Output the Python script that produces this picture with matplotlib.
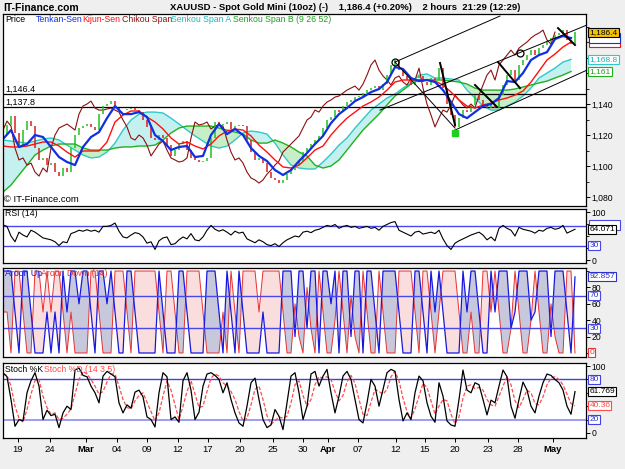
import numpy as np
import matplotlib
matplotlib.use("Agg")
import matplotlib.pyplot as plt
import matplotlib.transforms as mtransforms
from matplotlib.patches import Rectangle
from matplotlib.ticker import FuncFormatter, MultipleLocator, FixedLocator

plt.rcParams['font.family'] = ['Liberation Sans', 'DejaVu Sans']

# 2-hour closes, one value every few bars (left to right)
close = [1120.0, 1126.5, 1132.3, 1121.3, 1113.5, 1123.2, 1129.0, 1125.8, 1111.6, 1103.9,
         1105.2, 1100.6, 1101.9, 1096.1, 1093.5, 1098.7, 1096.1, 1111.6, 1120.0, 1124.5,
         1125.8, 1127.1, 1125.2, 1123.2, 1133.5, 1138.7, 1140.0, 1141.9, 1137.4, 1136.1,
         1136.1, 1136.8, 1137.4, 1136.1, 1134.8, 1129.7, 1125.2, 1118.1, 1116.8, 1120.0,
         1118.1, 1113.5, 1106.5, 1110.3, 1114.2, 1116.1, 1110.3, 1105.2, 1103.9, 1102.6,
         1103.2, 1105.2, 1118.1, 1128.4, 1126.5, 1127.1, 1128.4, 1123.9, 1125.8, 1126.5,
         1125.8, 1116.8, 1109.0, 1103.9, 1105.2, 1101.9, 1096.1, 1092.3, 1091.0, 1089.0,
         1091.0, 1094.8, 1097.4, 1100.6, 1103.2, 1109.0, 1111.6, 1114.2, 1116.8, 1119.4,
         1124.5, 1129.7, 1131.6, 1136.1, 1134.8, 1138.7, 1141.3, 1142.6, 1144.5, 1145.2,
         1147.1, 1149.0, 1150.3, 1151.6, 1149.0, 1152.9, 1158.7, 1165.2, 1168.4, 1161.9,
         1158.1, 1155.5, 1152.3, 1156.8, 1158.1, 1154.2, 1152.3, 1156.8, 1155.5, 1163.2,
         1150.3, 1140.0, 1132.9, 1125.2, 1131.0, 1136.1, 1134.8, 1139.4, 1145.8, 1142.6,
         1139.4, 1137.4, 1140.0, 1137.4, 1145.8, 1152.3, 1158.7, 1161.9, 1155.5, 1165.2,
         1168.4, 1171.6, 1174.8, 1171.6, 1176.1, 1178.1, 1180.0, 1182.6, 1184.5, 1185.8,
         1187.7, 1181.3, 1178.7, 1186.4]

# ichimoku lines, read every second point of the close grid
tenkan = [1117.4, 1123.2, 1112.3, 1114.2, 1120.0, 1118.7, 1112.3, 1105.8, 1102.6, 1100.6,
          1112.3, 1118.7, 1121.9, 1130.9, 1138.7, 1133.5, 1133.5, 1134.8, 1131.6, 1120.0,
          1116.1, 1110.3, 1112.3, 1112.9, 1105.8, 1106.5, 1120.0, 1127.1, 1120.6, 1123.9,
          1120.0, 1111.6, 1106.5, 1103.2, 1097.4, 1094.2, 1097.4, 1103.2, 1108.4, 1114.2,
          1119.4, 1127.7, 1133.5, 1137.4, 1141.9, 1144.5, 1147.7, 1149.7, 1154.2, 1163.9,
          1162.6, 1156.8, 1154.8, 1155.5, 1154.2, 1149.0, 1141.3, 1133.5, 1130.9, 1134.8,
          1138.7, 1140.0, 1143.9, 1154.8, 1154.2, 1160.0, 1168.4, 1171.6, 1173.5, 1181.9,
          1183.9, 1182.6]
kijun = [1112.9, 1112.3, 1112.3, 1112.9, 1114.2, 1115.5, 1115.5, 1112.9, 1109.0, 1105.8,
         1109.7, 1109.7, 1109.7, 1115.5, 1128.4, 1132.9, 1135.5, 1135.5, 1131.6, 1128.4,
         1123.9, 1118.1, 1114.2, 1115.5, 1112.9, 1111.0, 1114.2, 1119.4, 1122.6, 1123.9,
         1123.2, 1119.4, 1113.5, 1109.0, 1103.9, 1099.4, 1098.7, 1100.6, 1105.2, 1110.3,
         1112.9, 1120.0, 1125.8, 1130.9, 1134.8, 1138.7, 1141.3, 1144.5, 1149.0, 1154.2,
         1155.5, 1155.5, 1155.5, 1155.5, 1154.8, 1152.3, 1147.7, 1142.6, 1138.7, 1137.4,
         1139.4, 1140.6, 1142.6, 1143.9, 1145.8, 1148.4, 1154.2, 1161.3, 1168.4, 1172.3,
         1176.8, 1180.0]
senkou_a = [1116.8, 1116.1, 1115.5, 1114.8, 1116.1, 1117.4, 1118.1, 1116.8, 1113.5, 1110.3,
            1107.1, 1105.2, 1105.8, 1109.0, 1114.8, 1123.2, 1129.7, 1133.5, 1134.8, 1134.8,
            1134.2, 1130.9, 1127.1, 1123.2, 1119.4, 1116.1, 1112.9, 1111.6, 1112.9, 1116.8,
            1121.3, 1122.6, 1121.9, 1120.6, 1114.8, 1107.1, 1100.6, 1098.7, 1098.1, 1098.1,
            1102.6, 1107.7, 1113.5, 1118.1, 1124.5, 1130.3, 1136.1, 1140.0, 1143.9, 1146.5,
            1150.3, 1153.6, 1158.7, 1159.4, 1156.8, 1156.8, 1156.1, 1155.5, 1149.0, 1143.9,
            1138.7, 1136.1, 1136.1, 1138.7, 1141.3, 1145.2, 1150.3, 1156.8, 1160.0, 1163.2,
            1167.1, 1168.8]
senkou_b = [1083.2, 1087.7, 1094.2, 1100.6, 1107.1, 1110.3, 1112.9, 1114.2, 1114.2, 1114.2,
            1111.6, 1110.3, 1110.3, 1110.3, 1111.6, 1112.3, 1112.3, 1112.9, 1112.9, 1113.5,
            1116.8, 1121.3, 1124.5, 1125.8, 1125.8, 1125.8, 1125.8, 1124.5, 1123.2, 1121.9,
            1120.6, 1116.8, 1114.8, 1114.8, 1116.8, 1114.8, 1112.3, 1109.0, 1106.5, 1100.6,
            1098.7, 1100.0, 1103.9, 1110.3, 1116.8, 1123.2, 1128.4, 1133.5, 1139.4, 1145.2,
            1149.0, 1152.9, 1155.5, 1155.5, 1155.5, 1155.5, 1154.8, 1154.2, 1152.9, 1150.3,
            1149.0, 1149.0, 1149.0, 1149.0, 1149.7, 1151.0, 1152.3, 1153.6, 1154.8, 1156.8,
            1158.7, 1161.0]

rsi = [73, 70, 50, 38, 58, 52, 48, 62, 58, 52,
       46, 44, 42, 38, 30, 38, 36, 55, 58, 62,
       60, 63, 60, 62, 58, 70, 70, 72, 77, 60,
       48, 46, 52, 57, 55, 48, 35, 38, 22, 40,
       46, 48, 32, 34, 42, 48, 44, 55, 42, 40,
       48, 62, 72, 64, 60, 63, 58, 52, 60, 56,
       58, 44, 40, 36, 42, 38, 32, 30, 34, 28,
       36, 42, 46, 50, 48, 58, 60, 57, 62, 64,
       68, 72, 70, 74, 66, 70, 72, 68, 70, 66,
       68, 70, 66, 68, 62, 70, 74, 78, 80, 62,
       58, 54, 50, 58, 60, 54, 56, 58, 55, 62,
       44, 30, 22, 35, 40, 44, 48, 52, 55, 58,
       52, 42, 48, 40, 66, 72, 66, 62, 50, 68,
       64, 62, 60, 56, 62, 60, 66, 68, 64, 66,
       72, 56, 60, 64.071]

aroon_up = [100, 100, 100, 50, 0, 100, 100, 50, 0, 0,
            0, 50, 0, 50, 0, 100, 50, 100, 100, 60,
            100, 100, 50, 0, 100, 100, 60, 100, 50, 0,
            0, 100, 100, 50, 0, 0, 0, 0, 0, 100,
            50, 0, 0, 0, 100, 100, 50, 0, 0, 0,
            0, 100, 100, 100, 50, 0, 100, 50, 0, 100,
            50, 0, 0, 0, 0, 50, 0, 0, 0, 0,
            100, 100, 100, 20, 100, 100, 30, 100, 100, 0,
            100, 100, 60, 100, 0, 100, 100, 20, 100, 100,
            0, 100, 100, 50, 0, 100, 100, 100, 100, 50,
            0, 0, 0, 100, 100, 50, 0, 100, 50, 100,
            50, 0, 0, 0, 0, 100, 50, 100, 100, 50,
            0, 0, 100, 50, 100, 100, 100, 30, 50, 100,
            100, 100, 40, 50, 100, 100, 100, 20, 100, 100,
            100, 50, 0, 92.857]
aroon_down = [50, 50, 0, 100, 100, 50, 0, 0, 100, 100,
              50, 100, 50, 100, 100, 50, 0, 50, 0, 0,
              0, 0, 100, 100, 50, 0, 0, 0, 100, 100,
              100, 50, 0, 100, 100, 100, 100, 100, 100, 50,
              0, 100, 100, 50, 0, 0, 100, 100, 100, 100,
              50, 0, 0, 0, 0, 50, 0, 100, 50, 0,
              100, 100, 100, 100, 50, 100, 100, 100, 100, 100,
              50, 0, 0, 60, 20, 0, 80, 30, 0, 100,
              50, 0, 0, 40, 100, 50, 0, 70, 20, 0,
              100, 50, 0, 0, 100, 50, 0, 0, 0, 100,
              100, 100, 100, 50, 0, 100, 100, 50, 0, 50,
              100, 100, 100, 100, 50, 0, 0, 50, 0, 0,
              100, 100, 50, 100, 50, 0, 0, 30, 100, 50,
              0, 0, 40, 100, 50, 0, 0, 60, 20, 0,
              0, 100, 100, 0]

stoch_k = [90, 84, 50, 10, 20, 18, 60, 78, 90, 70,
           20, 34, 26, 28, 8, 30, 40, 35, 94, 97,
           86, 84, 70, 60, 45, 85, 92, 88, 84, 45,
           30, 42, 37, 61, 64, 54, 24, 20, 9, 60,
           90, 84, 20, 24, 16, 78, 90, 64, 20, 31,
           70, 88, 90, 86, 80, 60, 75, 50, 30, 15,
           10, 40, 75, 82, 50, 20, 8, 12, 35, 25,
           5, 45, 85, 90, 60, 20, 40, 88, 92, 70,
           85, 95, 60, 30, 55, 85, 92, 80, 50, 20,
           15, 45, 80, 70, 40, 65, 90, 95, 92, 50,
           18, 30, 20, 60, 85, 78, 45, 25, 16, 75,
           55, 18, 12, 10, 50, 94, 64, 60, 75, 72,
           50, 27, 49, 45, 70, 94, 84, 40, 22, 50,
           76, 64, 40, 30, 55, 75, 88, 86, 80, 75,
           64, 40, 28, 61.769]
stoch_d = [88, 86, 70, 40, 22, 16, 35, 58, 78, 80,
           55, 38, 28, 30, 20, 22, 28, 36, 58, 80,
           92, 88, 80, 70, 58, 62, 76, 88, 88, 70,
           50, 38, 36, 48, 56, 60, 46, 32, 18, 30,
           55, 78, 64, 42, 20, 40, 62, 78, 58, 38,
           40, 62, 82, 88, 85, 75, 70, 62, 50, 32,
           18, 22, 42, 65, 70, 50, 26, 13, 18, 24,
           22, 25, 45, 72, 78, 56, 40, 50, 72, 84,
           82, 84, 80, 62, 48, 56, 76, 86, 74, 50,
           28, 26, 46, 65, 62, 58, 65, 84, 92, 78,
           52, 32, 22, 36, 55, 74, 68, 48, 28, 40,
           50, 48, 28, 14, 24, 52, 70, 72, 66, 68,
           64, 50, 42, 40, 55, 70, 84, 72, 48, 38,
           50, 64, 60, 44, 42, 54, 72, 82, 84, 80,
           72, 58, 44, 40.36]

tick_pos = [3.75, 11.75, 20.75, 28.5, 36, 43.75, 51.25, 59.25, 67.5, 75,
            81.25, 88.75, 98.25, 105.5, 113, 121.25, 128.75, 137.5]
tick_labels = ['19', '24', 'Mar', '04', '09', '12', '17', '20', '25', '30',
               'Apr', '07', '12', '15', '20', '23', '28', 'May']
months = {'Mar', 'Apr', 'May'}

# hand-drawn study lines (bar index, price)
channel_lines = [([98, 124.25], [1167.1, 1196.8]),
                 ([94.25, 146], [1136.1, 1191.0]),
                 ([113, 146], [1123.2, 1161.9]),
                 ([98, 113], [1167.1, 1124.5])]
trend_segs = [([109.25, 113], [1166.5, 1126.5]),
              ([118, 123.5], [1152.3, 1138.1]),
              ([123.75, 129.25], [1167.1, 1150.3]),
              ([138.75, 143], [1189.0, 1178.1])]
hlines = [1146.4, 1137.8]
chikou_lag = 5

W, H = 625, 469
bg = '#efefef'
fig = plt.figure(figsize=(W / 100, H / 100), dpi=100, facecolor=bg)


def panel(top, bottom):
    ax = fig.add_axes([3 / W, 1 - bottom / H, 583 / W, (bottom - top) / H])
    ax.set_facecolor('white')
    for s in ax.spines.values():
        s.set_linewidth(0.9)
    ax.set_xlim(0, 145.75)
    ax.yaxis.tick_right()
    ax.tick_params(axis='y', which='both', direction='out', length=3, width=0.7,
                   labelsize=6.2, pad=1)
    ax.tick_params(axis='y', which='minor', length=2, width=0.6)
    ax.tick_params(axis='x', which='both', bottom=False, labelbottom=False)
    return ax


def box(ax, y, s, ec, tc, fc='white'):
    tr = mtransforms.blended_transform_factory(ax.transAxes, ax.transData)
    ax.text(1.006, y, s, transform=tr, fontsize=6.0, color=tc, va='center', ha='left',
            bbox=dict(boxstyle='square,pad=0.12', fc=fc, ec=ec, lw=0.8),
            clip_on=False, zorder=10)


def hidden_box(ax, y, px_per_unit, ec):
    # label box mostly covered by the box drawn after it
    tr = mtransforms.blended_transform_factory(ax.transAxes, ax.transData)
    h = 10 / px_per_unit
    ax.add_patch(Rectangle((1.006, y - h / 2), 31 / 583, h, transform=tr, fc='white',
                           ec=ec, lw=0.8, clip_on=False, zorder=9))


def ftext(px, py, s, **kw):
    kw.setdefault('fontsize', 6.5)
    fig.text(px / W, 1 - py / H, s, va='center', ha='left', zorder=20, **kw)


idx = np.arange(len(close))
jdx = np.arange(len(tenkan)) * 2
c = np.array(close)
sa = np.array(senkou_a)
sb = np.array(senkou_b)

# ---------------- price / ichimoku ----------------
ax = panel(14, 206)
ax.set_ylim(1074.2, 1198.1)
ax.fill_between(jdx, sa, sb, where=sa >= sb, interpolate=True, color='#c4f0f0', lw=0)
ax.fill_between(jdx, sa, sb, where=sa < sb, interpolate=True, color='#c8eec8', lw=0)
ax.plot(jdx, sa, color='#30c8c8', lw=1)
ax.plot(jdx, sb, color='#20b020', lw=1)
for h in hlines:
    ax.axhline(h, color='black', lw=0.9)
ax.plot(idx[:-chikou_lag], c[chikou_lag:], color='#8b1010', lw=0.8)
up = c[1:] >= c[:-1]
ax.vlines(idx[1:], np.minimum(c[:-1], c[1:]), np.maximum(c[:-1], c[1:]),
          colors=np.where(up, '#20c020', '#d82020'), lw=1.1)
ax.plot(jdx, kijun, color='#ff1010', lw=1)
ax.plot(jdx, tenkan, color='#1030e0', lw=1.6)
for xs, ys in channel_lines:
    ax.plot(xs, ys, color='black', lw=0.7)
for xs, ys in trend_segs:
    ax.plot(xs, ys, color='black', lw=1.4)
ax.plot([98, 129.25], [1167.1, 1173.0], ls='none', marker='o', ms=5, mfc='none',
        mec='black', mew=0.9)
ax.plot([113], [1121.5], ls='none', marker='s', ms=4, color='#20d020')
ax.yaxis.set_major_locator(FixedLocator([1080, 1100, 1120, 1140]))
ax.yaxis.set_minor_locator(MultipleLocator(10))
ax.yaxis.set_major_formatter(FuncFormatter(lambda v, p: f'{v:,.0f}'))
hidden_box(ax, kijun[-1], 1.55, '#ff1010')
hidden_box(ax, tenkan[-1], 1.55, '#1030e0')
box(ax, close[-1], f'{close[-1]:,.1f}', 'black', 'black', fc='#f5c200')
box(ax, senkou_a[-1], f'{senkou_a[-1]:,.1f}', '#30c8c8', '#20b0b0')
box(ax, senkou_b[-1], f'{senkou_b[-1]:,.0f}', '#20b020', '#20a020')

# ---------------- RSI ----------------
ax2 = panel(209, 263)
ax2.set_ylim(-6.25, 106.25)
ax2.axhline(70, color='#4848e8', lw=1)
ax2.axhline(30, color='#4848e8', lw=1)
ax2.plot(idx, rsi, color='black', lw=0.8)
ax2.yaxis.set_major_locator(FixedLocator([0, 100]))
ax2.yaxis.set_minor_locator(FixedLocator([25, 50, 75]))
hidden_box(ax2, 72, 0.48, '#4848e8')
box(ax2, rsi[-1], f'{rsi[-1]:.3f}', 'black', 'black')
box(ax2, 30, '30', '#4848e8', '#3030d0')

# ---------------- Aroon ----------------
ax3 = panel(268, 357)
ax3.set_ylim(-4.9, 103.7)
au = np.array(aroon_up)
ad = np.array(aroon_down)
ax3.fill_between(idx, au, ad, where=au >= ad, interpolate=True, color='#c8c8dc', lw=0)
ax3.fill_between(idx, au, ad, where=au < ad, interpolate=True, color='#fadede', lw=0)
ax3.plot(idx, ad, color='#e83030', lw=0.7)
ax3.plot(idx, au, color='#1818e0', lw=0.9)
ax3.axhline(70, color='#4848e8', lw=1)
ax3.axhline(30, color='#4848e8', lw=1)
ax3.yaxis.set_major_locator(FixedLocator([20, 40, 60, 80]))
ax3.yaxis.set_minor_locator(FixedLocator([0, 100]))
box(ax3, aroon_up[-1], f'{aroon_up[-1]:.3f}', '#3030d0', '#3030d0')
box(ax3, 70, '70', '#4848e8', '#3030d0')
box(ax3, 30, '30', '#4848e8', '#3030d0')
box(ax3, aroon_down[-1], f'{aroon_down[-1]:.0f}', '#e83030', '#e83030')

# ---------------- Stochastic ----------------
ax4 = panel(363, 438)
ax4.set_ylim(-7.5, 104.5)
ax4.axhline(80, color='#4040e8', lw=1)
ax4.axhline(20, color='#8c8cf0', lw=1.2)
ax4.plot(idx, stoch_d, color='#ff4c4c', lw=0.9, dashes=(3, 1.5))
ax4.plot(idx, stoch_k, color='black', lw=0.9)
ax4.yaxis.set_major_locator(FixedLocator([0, 100]))
ax4.yaxis.set_minor_locator(FixedLocator([20, 40, 60, 80]))
box(ax4, 80, '80', '#4040e8', '#3030d0')
box(ax4, stoch_k[-1], f'{stoch_k[-1]:.3f}', 'black', 'black')
box(ax4, stoch_d[-1], f'{stoch_d[-1]:.2f}', '#ff4c4c', '#ff4c4c')
box(ax4, 20, '20', '#4040e8', '#3030d0')
ax4.tick_params(axis='x', which='major', bottom=True, labelbottom=True, direction='out',
                length=3, width=0.7, labelsize=6.8, pad=2)
ax4.set_xticks(tick_pos)
ax4.set_xticklabels(tick_labels)
for t in ax4.get_xticklabels():
    if t.get_text() in months:
        t.set_fontweight('bold')

# ---------------- texts ----------------
ftext(3, 8, 'IT-Finance.com', fontsize=7.5, fontweight='bold')
fig.text(345 / W, 1 - 8 / H,
         'XAUUSD - Spot Gold Mini (10oz) (-)    1,186.4 (+0.20%)    2 hours  21:29 (12:29)',
         ha='center', va='center', fontsize=6.8, fontweight='bold')
ftext(5, 19, 'Price', color='black', fontsize=6.3)
ftext(36, 19, 'Tenkan-Sen', color='#1030e0', fontsize=6.3)
ftext(82, 19, 'Kijun-Sen', color='#ff1010', fontsize=6.3)
ftext(122, 19, 'Chikou Span', color='#8b1010', fontsize=6.3)
ftext(171, 19, 'Senkou Span A', color='#20b8b8', fontsize=6.3)
ftext(233, 19, 'Senkou Span B (9 26 52)', color='#20a020', fontsize=6.3)
ftext(5, 89, '1,146.4', fontsize=6.5)
ftext(5, 102, '1,137.8', fontsize=6.5)
ftext(4, 199, '\u00a9 IT-Finance.com', fontsize=6.8)
ftext(5, 214, 'RSI (14)', fontsize=6.3)
ftext(5, 273, 'Aroon Up', color='#1818e0', fontsize=6.3)
ftext(41, 273, 'Aroon Down (14)', color='#e83030', fontsize=6.3)
ftext(5, 369, 'Stoch %K', color='black', fontsize=6.3)
ftext(44, 369, 'Stoch %D (14 3 5)', color='#ff4c4c', fontsize=6.3)

fig.savefig('out.png', dpi=100, facecolor=bg)
